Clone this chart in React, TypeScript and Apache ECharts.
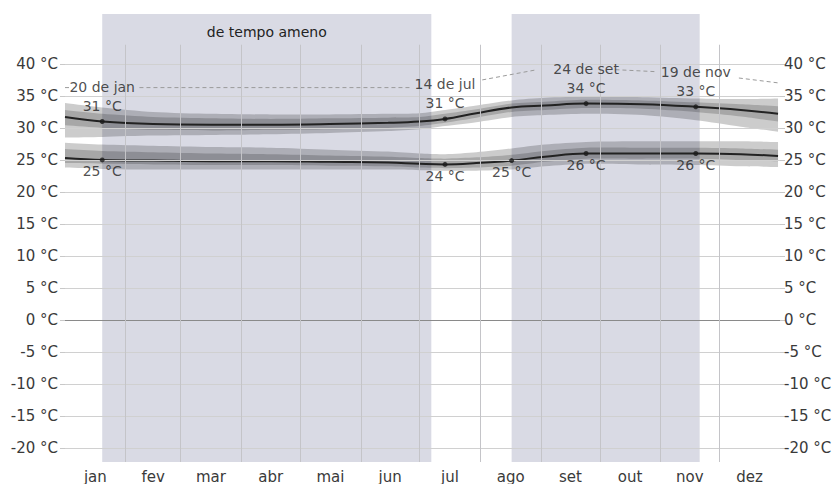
import React, { useEffect, useRef } from "react";
import * as echarts from "echarts";

// ---------- data ----------
const monthNames = ["jan", "fev", "mar", "abr", "mai", "jun", "jul", "ago", "set", "out", "nov", "dez"];
const monthDays = [31, 28, 31, 30, 31, 30, 31, 31, 30, 31, 30, 31];
const yTicks = [-20, -15, -10, -5, 0, 5, 10, 15, 20, 25, 30, 35, 40];

// day of year (0 = 1 jan)
const days = [0, 19, 45, 75, 105, 135, 165, 181, 194, 210, 228, 245, 266, 295, 322, 345, 364];
const highMean = [31.7, 31.0, 30.6, 30.5, 30.5, 30.6, 30.8, 31.0, 31.4, 32.3, 33.2, 33.5, 33.8, 33.7, 33.3, 32.8, 32.2];
const highP90 = [33.9, 33.2, 32.5, 32.2, 32.1, 32.1, 32.2, 32.3, 32.8, 33.5, 34.3, 34.7, 34.9, 34.8, 34.6, 34.5, 34.6];
const highP10 = [28.5, 28.6, 28.8, 28.9, 29.0, 29.2, 29.5, 29.8, 30.3, 30.9, 31.7, 32.0, 32.2, 32.0, 31.2, 30.2, 29.4];
const highP75 = [32.8, 32.2, 31.7, 31.5, 31.4, 31.5, 31.6, 31.7, 32.2, 32.9, 33.8, 34.1, 34.4, 34.3, 34.0, 33.7, 33.4];
const highP25 = [30.4, 30.0, 29.7, 29.6, 29.7, 29.8, 30.0, 30.3, 30.8, 31.6, 32.5, 32.8, 33.1, 33.0, 32.5, 31.8, 31.0];

const lowMean = [25.3, 25.0, 24.9, 24.8, 24.8, 24.7, 24.6, 24.4, 24.3, 24.5, 24.9, 25.5, 26.0, 26.0, 26.0, 25.9, 25.6];
const lowP90 = [27.7, 27.4, 27.2, 27.0, 26.9, 26.6, 26.3, 26.0, 25.9, 26.2, 26.8, 27.4, 27.8, 27.9, 27.9, 27.9, 27.8];
const lowP10 = [23.8, 23.6, 23.5, 23.5, 23.5, 23.5, 23.5, 23.4, 23.3, 23.3, 23.5, 24.0, 24.4, 24.3, 24.2, 24.0, 23.9];
const lowP75 = [26.7, 26.4, 26.2, 26.0, 25.9, 25.7, 25.5, 25.3, 25.2, 25.4, 25.8, 26.4, 26.9, 26.9, 26.9, 26.8, 26.6];
const lowP25 = [24.5, 24.4, 24.3, 24.2, 24.2, 24.1, 24.0, 23.8, 23.7, 23.8, 24.1, 24.7, 25.2, 25.2, 25.2, 25.0, 24.8];

const highAnnotDays = [19, 194, 266, 322];
const highAnnotDates = ["20 de jan", "14 de jul", "24 de set", "19 de nov"];
const lowAnnotDays = [19, 194, 228, 266, 322];

const comfortStart = [19, 228];
const comfortEnd = [187, 324];
const comfortLabels = ["de tempo ameno", ""];

// faint connector line between the date labels (day, °C)
const connectorSegments = [
  [[0, 36.3], [2.5, 36.3]],
  [[38, 36.3], [176, 36.3]],
  [[213, 37.5], [241, 39.1]],
  [[281, 39.1], [301, 38.8]],
  [[344, 37.8], [365, 37.0]],
];

const Y_MIN = -22.2;
const Y_MAX = 47.8;
const VLINE_TOP = 43;

export default function App() {
  const ref = useRef<HTMLDivElement>(null);

  useEffect(() => {
    if (!ref.current) return;
    const chart = echarts.init(ref.current, undefined, { renderer: "svg" });

    const monthStarts: number[] = [];
    const monthMids: number[] = [];
    let acc = 0;
    monthDays.forEach((n) => {
      monthStarts.push(acc);
      monthMids.push(acc + n / 2);
      acc += n;
    });

    const font = "'DejaVu Sans', Verdana, sans-serif";
    const pts = (arr: number[]) => days.map((d, i) => [d, arr[i]]);

    const band = (name: string, hi: number[], lo: number[], color: string) => ({
      name,
      type: "custom",
      silent: true,
      clip: true,
      z: 3,
      data: [[days[0], hi[0]]],
      renderItem: (_params: any, api: any) => {
        const top = days.map((d, i) => api.coord([d, hi[i]]));
        const bot = days.map((d, i) => api.coord([d, lo[i]])).reverse();
        const x0 = top[0][0];
        const x1 = top[top.length - 1][0];
        // corners duplicated so the band ends stay square
        const poly = [top[0], ...top, top[top.length - 1], bot[0], ...bot, bot[bot.length - 1]];
        return {
          type: "polygon",
          shape: {
            points: poly,
            smooth: 0.25,
            smoothConstraint: [
              [x0, -100000],
              [x1, 100000],
            ],
          },
          style: { fill: color },
          silent: true,
        };
      },
    });

    const outerColor = "rgba(0,0,0,0.2)";
    const innerColor = "rgba(0,0,0,0.18)";

    const series: any[] = [
      {
        name: "shade",
        type: "line",
        data: [],
        silent: true,
        z: 1,
        markArea: {
          silent: true,
          itemStyle: { color: "#d9dae4" },
          label: {
            show: true,
            position: "insideTop",
            distance: 11,
            color: "#222",
            fontSize: 14,
            fontFamily: font,
          },
          data: comfortStart.map((s, i) => [
            { xAxis: s, name: comfortLabels[i] },
            { xAxis: comfortEnd[i] },
          ]),
        },
      },
      {
        name: "grid",
        type: "line",
        data: [],
        silent: true,
        z: 2,
        markLine: {
          silent: true,
          symbol: "none",
          animation: false,
          label: { show: false },
          data: [
            ...yTicks.map((v) => ({
              yAxis: v,
              lineStyle: { color: v === 0 ? "#8a8a8a" : "#d0d0d0", width: 1, type: "solid" },
            })),
            ...monthStarts.slice(1).map((d) => [
              { coord: [d, Y_MIN], lineStyle: { color: "#c4c4c8", width: 1, type: "solid" } },
              { coord: [d, VLINE_TOP] },
            ]),
          ],
        },
      },
      ...connectorSegments.map((seg, i) => ({
        name: "conn" + i,
        type: "line",
        data: seg,
        symbol: "none",
        silent: true,
        lineStyle: { color: "#9a9a9a", width: 1, type: [4, 3] },
        z: 2,
      })),
      band("hiOuter", highP90, highP10, outerColor),
      band("hiInner", highP75, highP25, innerColor),
      band("loOuter", lowP90, lowP10, outerColor),
      band("loInner", lowP75, lowP25, innerColor),
      {
        name: "high",
        type: "line",
        data: pts(highMean),
        smooth: 0.4,
        symbol: "none",
        lineStyle: { color: "#222", width: 2 },
        z: 4,
      },
      {
        name: "low",
        type: "line",
        data: pts(lowMean),
        smooth: 0.4,
        symbol: "none",
        lineStyle: { color: "#222", width: 2 },
        z: 4,
      },
      {
        name: "highAnnot",
        type: "scatter",
        symbolSize: 5,
        itemStyle: { color: "#1a1a1a" },
        z: 5,
        data: highAnnotDays.map((d, i) => ({
          value: [d, highMean[days.indexOf(d)]],
          date: highAnnotDates[i],
        })),
        label: {
          show: true,
          position: "top",
          distance: 4,
          fontFamily: font,
          formatter: (p: any) => `{d|${p.data.date}}\n{v|${Math.round(p.value[1])} °C}`,
          rich: {
            d: { fontSize: 14, color: "#222", lineHeight: 20, fontFamily: font },
            v: { fontSize: 14, color: "#222", lineHeight: 18, fontFamily: font },
          },
        },
      },
      {
        name: "lowAnnot",
        type: "scatter",
        symbolSize: 5,
        itemStyle: { color: "#1a1a1a" },
        z: 5,
        data: lowAnnotDays.map((d) => [d, lowMean[days.indexOf(d)]]),
        label: {
          show: true,
          position: "bottom",
          distance: 2,
          fontSize: 14,
          color: "#222",
          fontFamily: font,
          formatter: (p: any) => `${Math.round(p.value[1])} °C`,
        },
      },
    ];

    const yAxisBase = (position: "left" | "right", margin: number) => ({
      type: "value",
      position,
      min: Y_MIN,
      max: Y_MAX,
      axisLine: { show: false },
      splitLine: { show: false },
      axisTick: {
        show: true,
        length: 5,
        customValues: yTicks,
        lineStyle: { color: "#c8c8c8" },
      },
      axisLabel: {
        customValues: yTicks,
        margin,
        color: "#3a3a3a",
        fontSize: 15,
        fontFamily: font,
        formatter: (v: number) => `${v} °C`,
      },
    });

    chart.setOption({
      animation: false,
      backgroundColor: "#ffffff",
      grid: { left: 65, right: 56, top: 14, bottom: 22, containLabel: false },
      xAxis: {
        type: "value",
        min: 0,
        max: 365,
        axisLine: { show: false },
        axisTick: { show: false },
        splitLine: { show: false },
        axisLabel: {
          customValues: monthMids,
          margin: 7,
          color: "#3a3a3a",
          fontSize: 15,
          fontFamily: font,
          formatter: (v: number) => {
            const i = monthMids.findIndex((m) => Math.abs(m - v) < 0.01);
            return i >= 0 ? monthNames[i] : "";
          },
        },
      },
      yAxis: [yAxisBase("left", 7), yAxisBase("right", 4)],
      series,
    });

    return () => chart.dispose();
  }, []);

  return (
    <div
      ref={ref}
      style={{ position: "fixed", left: 0, top: 0, width: 836, height: 484, background: "#fff" }}
    />
  );
}
